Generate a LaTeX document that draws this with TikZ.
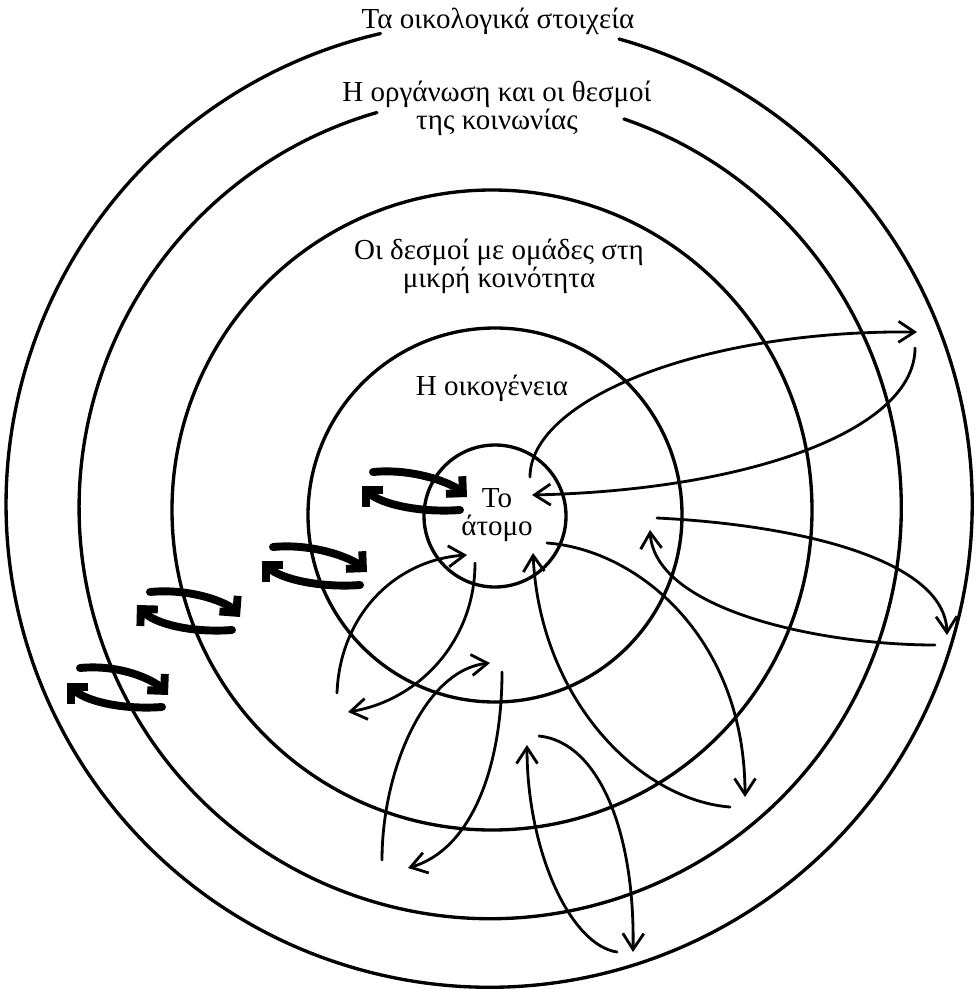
\documentclass[tikz,border=0pt]{standalone}
\usepackage{fontspec}
\setmainfont{Liberation Serif}
\usetikzlibrary{arrows.meta}

\begin{document}
\begin{tikzpicture}[x=0.2mm, y=-0.2mm, line cap=round,
    kyklos/.style={line width=1.9pt},
    velos/.style={line width=1.6pt, -{Straight Barb[length=3.2mm,width=4.2mm]}},
    diplo/.style={line width=4.5pt, -{Straight Barb[length=2.4mm,width=4.8mm]}},
    etiketa/.style={font=\fontsize{16.5}{16}\selectfont, align=center, inner sep=0pt}]
  \useasboundingbox (0,0) rectangle (978,990);
  % ομόκεντροι κύκλοι (οι δύο εξωτερικοί ανοίγουν για τον τίτλο)
  \draw[kyklos] (619,39) arc[start angle=-74.4, end angle=257, radius=483];
  \draw[kyklos] (624,119) arc[start angle=-71, end angle=254, radius=411];
  \draw[kyklos] (492,510) circle[radius=320];
  \draw[kyklos] (495,515) circle[radius=187];
  \draw[kyklos] (495,516) circle[radius=71];
  % τίτλοι των κύκλων
  \node[etiketa] (oikologika) at (498,21) {Τα οικολογικά στοιχεία};
  \node[etiketa] (koinonia) at (497,108) {Η οργάνωση και οι θεσμοί\\της κοινωνίας};
  \node[etiketa] (koinotita) at (499,266) {Οι δεσμοί με ομάδες στη\\μικρή κοινότητα};
  \node[etiketa] (oikogeneia) at (492,388) {Η οικογένεια};
  \node[etiketa] (atomo) at (497,515) {Το\\άτομο};
  % διπλά βέλη αμοιβαίας επίδρασης
  \draw[diplo] (373,472) .. controls (415,468) and (453,484) .. (467,497);
  \draw[diplo] (460,510) .. controls (420,513) and (380,504) .. (362,486);
  \draw[diplo] (273,547) .. controls (315,543) and (353,559) .. (367,572);
  \draw[diplo] (360,585) .. controls (320,588) and (280,579) .. (262,561);
  \draw[diplo] (150,592) .. controls (192,588) and (228,603) .. (240,617);
  \draw[diplo] (232,630) .. controls (192,633) and (155,624) .. (137,605);
  \draw[diplo] (80,668) .. controls (122,664) and (155,681) .. (168,695);
  \draw[diplo] (162,707) .. controls (122,710) and (85,701) .. (67,683);
  % βέλη από και προς το άτομο
  \draw[velos] (530,477) .. controls (530,400) and (700,330) .. (917,332);
  \draw[velos] (915,348) .. controls (915,430) and (750,490) .. (532,495);
  \draw[velos] (657,518) .. controls (800,525) and (945,560) .. (947,635);
  \draw[velos] (935,645) .. controls (820,645) and (655,610) .. (650,530);
  \draw[velos] (547,543) .. controls (640,550) and (745,640) .. (745,797);
  \draw[velos] (730,807) .. controls (640,800) and (540,700) .. (533,553);
  \draw[velos] (539,736) .. controls (598,742) and (635,830) .. (633,952);
  \draw[velos] (617,952) .. controls (570,945) and (527,850) .. (527,745);
  \draw[velos] (475,563) .. controls (475,640) and (420,700) .. (348,712);
  \draw[velos] (337,693) .. controls (340,615) and (395,560) .. (467,555);
  \draw[velos] (382,860) .. controls (382,770) and (425,670) .. (490,663);
  \draw[velos] (502,672) .. controls (502,770) and (470,850) .. (408,868);
\end{tikzpicture}
\end{document}
